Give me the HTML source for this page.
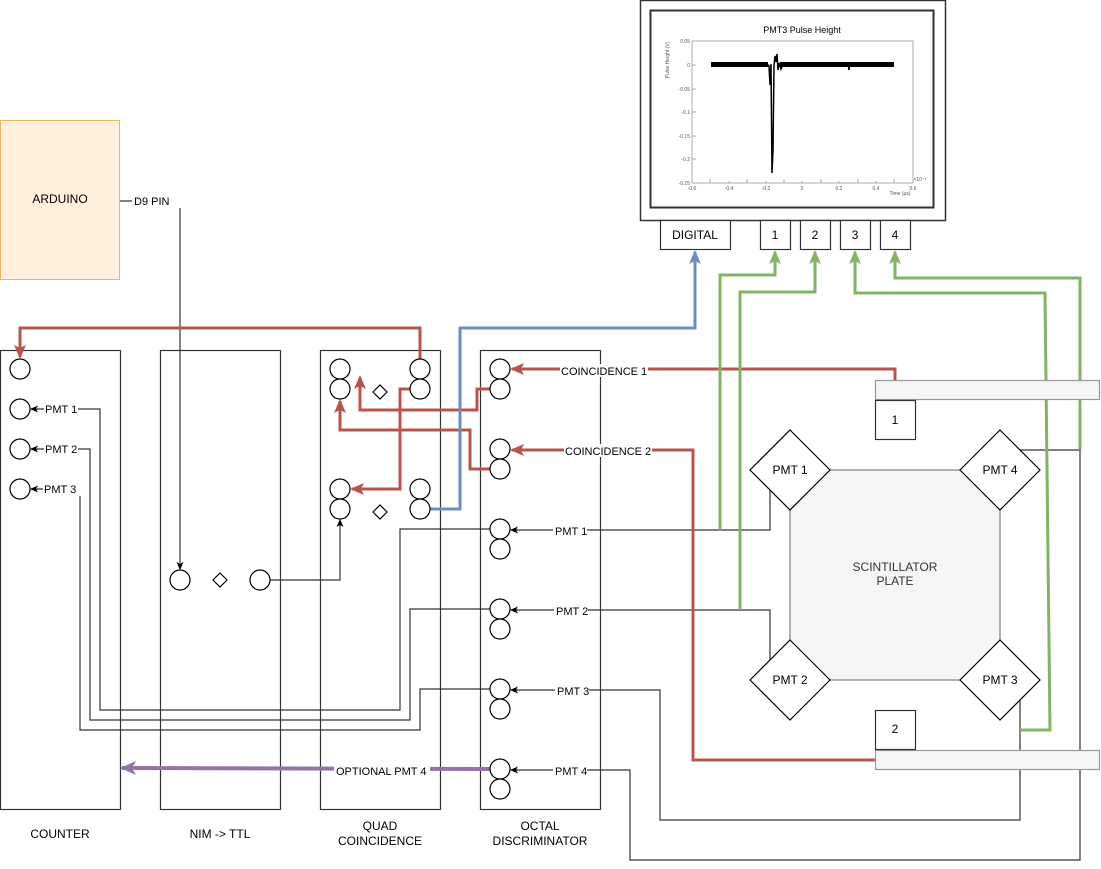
<!DOCTYPE html>
<html><head><meta charset="utf-8"><style>
html,body{margin:0;padding:0;background:#fff;}
svg{display:block;font-family:"Liberation Sans",sans-serif;}
</style></head><body>
<svg width="1101" height="869" viewBox="0 0 1101 869" xmlns="http://www.w3.org/2000/svg">
<defs>
<marker id="ab" markerWidth="8" markerHeight="8" refX="7" refY="4" orient="auto" markerUnits="userSpaceOnUse"><path d="M0,0.5 L8,4 L0,7.5 L2,4 Z" fill="#000"/></marker>
<marker id="ar" markerWidth="14" markerHeight="14" refX="12" refY="7" orient="auto" markerUnits="userSpaceOnUse"><path d="M0,1 L14,7 L0,13 L3,7 Z" fill="#b85450"/></marker>
<marker id="abl" markerWidth="14" markerHeight="14" refX="12" refY="7" orient="auto" markerUnits="userSpaceOnUse"><path d="M0,1 L14,7 L0,13 L3,7 Z" fill="#6c8ebf"/></marker>
<marker id="ag" markerWidth="14" markerHeight="14" refX="12" refY="7" orient="auto" markerUnits="userSpaceOnUse"><path d="M0,1 L14,7 L0,13 L3,7 Z" fill="#82b366"/></marker>
<marker id="ap" markerWidth="16" markerHeight="16" refX="14" refY="8" orient="auto" markerUnits="userSpaceOnUse"><path d="M0,1 L16,8 L0,15 L4,8 Z" fill="#9673a6"/></marker>
</defs>

<!-- Oscilloscope -->
<rect x="640.5" y="0.5" width="305" height="220" fill="#fff" stroke="#333" stroke-width="1.5"/>
<rect x="650.5" y="10.5" width="283" height="197" fill="#fff" stroke="#333" stroke-width="2"/>
<text x="802" y="33" font-size="9" text-anchor="middle">PMT3 Pulse Height</text>
<rect x="692" y="41" width="221" height="142" fill="none" stroke="#777" stroke-width="0.6"/>
<g stroke="#777" stroke-width="0.6">
<line x1="710" y1="183" x2="710" y2="179"/><line x1="729" y1="183" x2="729" y2="181"/><line x1="747" y1="183" x2="747" y2="179"/><line x1="766" y1="183" x2="766" y2="181"/><line x1="784" y1="183" x2="784" y2="179"/><line x1="802" y1="183" x2="802" y2="181"/><line x1="821" y1="183" x2="821" y2="179"/><line x1="839" y1="183" x2="839" y2="181"/><line x1="858" y1="183" x2="858" y2="179"/><line x1="876" y1="183" x2="876" y2="181"/><line x1="894" y1="183" x2="894" y2="179"/>
<line x1="692" y1="65" x2="696" y2="65"/><line x1="692" y1="89" x2="696" y2="89"/><line x1="692" y1="112" x2="696" y2="112"/><line x1="692" y1="136" x2="696" y2="136"/><line x1="692" y1="159" x2="696" y2="159"/>
</g>
<g font-size="5" fill="#555" text-anchor="end">
<text x="690" y="43">0.05</text><text x="690" y="67">0</text><text x="690" y="91">-0.05</text><text x="690" y="114">-0.1</text><text x="690" y="138">-0.15</text><text x="690" y="161">-0.2</text><text x="690" y="185">-0.25</text>
</g>
<g font-size="5" fill="#555" text-anchor="middle">
<text x="692" y="190">-0.6</text><text x="729" y="190">-0.4</text><text x="766" y="190">-0.2</text><text x="802" y="190">0</text><text x="839" y="190">0.2</text><text x="876" y="190">0.4</text><text x="913" y="190">0.6</text>
<text x="900" y="195">Time (µs)</text><text x="920" y="181">×10⁻⁶</text>
</g>
<text x="669" y="60" font-size="5" fill="#555" transform="rotate(-90 669 60)" text-anchor="middle">Pulse Height (V)</text>
<rect x="711" y="62" width="57" height="5" fill="#000"/>
<rect x="780" y="62" width="114" height="5" fill="#000"/>
<polyline fill="none" stroke="#000" stroke-width="1.5" points="767,64 769,66 770,85 771,64 772,173 773,150 774,66 775,56 776,62 777,54 778,70 779,63 781,69 783,64 786,66 848,63 849,70 850,64"/>

<!-- Scope buttons -->
<g fill="#fff" stroke="#333" stroke-width="1.2">
<rect x="660.5" y="220.5" width="70" height="29"/>
<rect x="760.5" y="220.5" width="30" height="29"/>
<rect x="800.5" y="220.5" width="30" height="29"/>
<rect x="840.5" y="220.5" width="30" height="29"/>
<rect x="880.5" y="220.5" width="30" height="29"/>
</g>
<g font-size="12" text-anchor="middle">
<text x="695" y="239">DIGITAL</text><text x="775" y="239">1</text><text x="815" y="239">2</text><text x="855" y="239">3</text><text x="895" y="239">4</text>
</g>

<!-- Arduino -->
<rect x="0.5" y="120.5" width="119" height="159" fill="#ffefdc" stroke="#e6b85c"/>
<text x="60" y="203" font-size="12" text-anchor="middle">ARDUINO</text>

<!-- Modules -->
<g fill="none" stroke="#333" stroke-width="1.2">
<rect x="0.5" y="350.5" width="120" height="459"/>
<rect x="160.5" y="350.5" width="120" height="459"/>
<rect x="320.5" y="350.5" width="120" height="459"/>
<rect x="480.5" y="350.5" width="120" height="459"/>
</g>
<g font-size="12" text-anchor="middle">
<text x="60" y="838">COUNTER</text>
<text x="220" y="838">NIM -&gt; TTL</text>
<text x="380" y="830">QUAD</text><text x="380" y="845">COINCIDENCE</text>
<text x="540" y="830">OCTAL</text><text x="540" y="845">DISCRIMINATOR</text>
</g>

<!-- Black wires -->
<g fill="none" stroke="#333" stroke-width="1.2">
<polyline points="120,201 180,201 180,569" marker-end="url(#ab)"/>
<polyline points="270,580 340,580 340,520" marker-end="url(#ab)"/>
<polyline points="490,529 400,529 400,710 100,710 100,409 31,409" marker-end="url(#ab)"/>
<polyline points="490,609 410,609 410,720 90,720 90,449 31,449" marker-end="url(#ab)"/>
<polyline points="490,689 420,689 420,730 80,730 80,489 31,489" marker-end="url(#ab)"/>
<polyline points="770,490 770,530 511,530" marker-end="url(#ab)"/>
<polyline points="770,660 770,610 511,610" marker-end="url(#ab)"/>
<polyline points="1020,700 1020,820 660,820 660,690 511,690" marker-end="url(#ab)"/>
<polyline points="1020,450 1080,450 1080,860 630,860 630,770 511,770" marker-end="url(#ab)"/>
</g>

<!-- Red wires -->
<g fill="none" stroke="#b85450" stroke-width="3">
<polyline points="420,359 420,328 20,328 20,357" marker-end="url(#ar)"/>
<polyline points="410,389 400,389 400,489 352,489" marker-end="url(#ar)"/>
<polyline points="490,389 477,389 477,410 360,410 360,377" marker-end="url(#ar)"/>
<polyline points="490,469 470,469 470,430 340,430 340,401" marker-end="url(#ar)"/>
<polyline points="895,380 895,369 512,369" marker-end="url(#ar)"/>
<polyline points="875,760 693,760 693,450 512,450" marker-end="url(#ar)"/>
</g>
<!-- Blue -->
<polyline fill="none" stroke="#6c8ebf" stroke-width="3" points="430,509 460,509 460,328 695,328 695,252" marker-end="url(#abl)"/>
<!-- Green -->
<g fill="none" stroke="#82b366" stroke-width="3">
<polyline points="720,530 720,275 775,275 775,252" marker-end="url(#ag)"/>
<polyline points="740,610 740,292 815,292 815,252" marker-end="url(#ag)"/>
<polyline points="1020,730 1050,730 1045,293 855,293 855,252" marker-end="url(#ag)"/>
<polyline points="1080,450 1080,278 895,278 895,252" marker-end="url(#ag)"/>
</g>
<!-- Purple -->
<polyline fill="none" stroke="#9673a6" stroke-width="4" points="490,769 122,768" marker-end="url(#ap)"/>

<!-- Circles -->
<g fill="#fff" stroke="#000" stroke-width="1.2">
<circle cx="20" cy="369" r="10"/><circle cx="20" cy="409" r="10"/><circle cx="20" cy="449" r="10"/><circle cx="20" cy="489" r="10"/>
<circle cx="180" cy="580" r="10"/><circle cx="260" cy="580" r="10"/>
<circle cx="340" cy="369" r="10"/><circle cx="340" cy="389" r="10"/><circle cx="420" cy="369" r="10"/><circle cx="420" cy="389" r="10"/>
<circle cx="340" cy="489" r="10"/><circle cx="340" cy="509" r="10"/><circle cx="420" cy="489" r="10"/><circle cx="420" cy="509" r="10"/>
<circle cx="500" cy="369" r="10"/><circle cx="500" cy="389" r="10"/>
<circle cx="500" cy="449" r="10"/><circle cx="500" cy="469" r="10"/>
<circle cx="500" cy="529" r="10"/><circle cx="500" cy="549" r="10"/>
<circle cx="500" cy="609" r="10"/><circle cx="500" cy="629" r="10"/>
<circle cx="500" cy="689" r="10"/><circle cx="500" cy="709" r="10"/>
<circle cx="500" cy="769" r="10"/><circle cx="500" cy="789" r="10"/>
<path d="M220,573 L227,580 L220,587 L213,580 Z"/>
<path d="M380,385 L387,392 L380,399 L373,392 Z"/>
<path d="M380,505 L387,512 L380,519 L373,512 Z"/>
</g>

<!-- Wire labels -->
<g font-size="11">
<rect x="132" y="194" width="52" height="14" fill="#fff"/><text x="134" y="205">D9 PIN</text>
<rect x="44" y="403" width="34" height="13" fill="#fff"/><text x="45" y="413">PMT 1</text>
<rect x="44" y="443" width="34" height="13" fill="#fff"/><text x="45" y="453">PMT 2</text>
<rect x="43" y="483" width="38" height="13" fill="#fff"/><text x="44" y="493">PMT  3</text>
<rect x="560" y="364" width="88" height="13" fill="#fff"/><text x="561" y="375">COINCIDENCE 1</text>
<rect x="564" y="444" width="88" height="13" fill="#fff"/><text x="565" y="455">COINCIDENCE 2</text>
<rect x="553" y="524" width="34" height="13" fill="#fff"/><text x="555" y="535">PMT 1</text>
<rect x="554" y="604" width="34" height="13" fill="#fff"/><text x="556" y="615">PMT 2</text>
<rect x="555" y="684" width="34" height="13" fill="#fff"/><text x="557" y="695">PMT 3</text>
<rect x="553" y="764" width="34" height="13" fill="#fff"/><text x="555" y="775">PMT 4</text>
<rect x="334" y="764" width="96" height="13" fill="#fff"/><text x="336" y="775">OPTIONAL PMT 4</text>
</g>

<!-- Scintillator -->
<rect x="790" y="470" width="210" height="210" fill="#f5f5f5" stroke="#999" stroke-width="1.5"/>
<text x="895" y="571" font-size="12" fill="#333" text-anchor="middle">SCINTILLATOR</text>
<text x="895" y="585" font-size="12" fill="#333" text-anchor="middle">PLATE</text>
<g fill="#fff" stroke="#000" stroke-width="1.2">
<path d="M790,430 L830,470 L790,510 L750,470 Z"/>
<path d="M1000,430 L1040,470 L1000,510 L960,470 Z"/>
<path d="M790,640 L830,680 L790,720 L750,680 Z"/>
<path d="M1000,640 L1040,680 L1000,720 L960,680 Z"/>
</g>
<g font-size="12" text-anchor="middle">
<text x="790" y="474">PMT 1</text><text x="1000" y="474">PMT 4</text>
<text x="790" y="684">PMT 2</text><text x="1000" y="684">PMT 3</text>
</g>

<!-- Bars -->
<rect x="875.5" y="380.5" width="224" height="19" fill="#f5f5f5" stroke="#999" stroke-width="1.2"/>
<rect x="875.5" y="400.5" width="40" height="39" fill="#fff" stroke="#333" stroke-width="1.2"/>
<text x="895" y="424" font-size="12" text-anchor="middle">1</text>
<rect x="875.5" y="750.5" width="224" height="19" fill="#f5f5f5" stroke="#999" stroke-width="1.2"/>
<rect x="875.5" y="710.5" width="40" height="39" fill="#fff" stroke="#333" stroke-width="1.2"/>
<text x="895" y="733" font-size="12" text-anchor="middle">2</text>
</svg>
</body></html>
